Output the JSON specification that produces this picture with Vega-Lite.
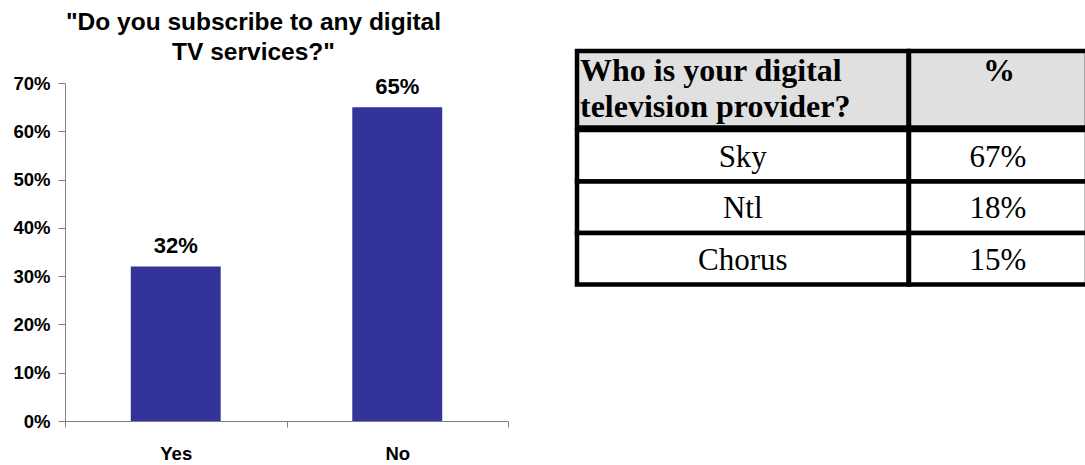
{
  "$schema": "https://vega.github.io/schema/vega-lite/v6.json",
  "padding": {"left": 5, "top": 5, "right": 0, "bottom": 0},
  "background": "white",
  "config": {"view": {"stroke": null}, "font": "Liberation Sans"},
  "datasets": {
    "question": [
      {"text": "\"Do you subscribe to any digital\nTV services?\""}
    ],
    "survey": [
      {"answer": "Yes", "share": 0.32},
      {"answer": "No", "share": 0.65}
    ],
    "header": [
      {"column": "question", "section": "header", "text": "Who is your digital\ntelevision provider?"},
      {"column": "pct", "section": "header", "text": "%"}
    ],
    "providers": [
      {"provider": "Sky", "share": "67%"},
      {"provider": "Ntl", "share": "18%"},
      {"provider": "Chorus", "share": "15%"}
    ]
  },
  "spacing": 65,
  "hconcat": [
    {
      "spacing": 0,
      "vconcat": [
        {
          "width": 377,
          "height": 69,
          "data": {"name": "question"},
          "mark": {"type": "text", "align": "center", "baseline": "alphabetic", "dy": -10, "fontSize": 24.5, "fontWeight": "bold", "font": "Liberation Sans", "lineHeight": 30.5, "lineBreak": "\n", "color": "black"},
          "encoding": {
            "text": {"field": "text"}
          }
        },
        {
          "width": 443,
          "height": 338,
          "data": {"name": "survey"},
          "encoding": {
            "x": {
              "field": "answer",
              "type": "nominal",
              "sort": null,
              "scale": {"paddingInner": 0, "paddingOuter": 0},
              "axis": {
                "title": null,
                "labelAngle": 0,
                "tickBand": "extent",
                "tickSize": 6,
                "labelPadding": 17,
                "labelFontSize": 18.5,
                "labelFontWeight": "bold",
                "labelFont": "Liberation Sans",
                "labelColor": "black",
                "domainColor": "#808080",
                "tickColor": "#808080"
              }
            },
            "y": {
              "field": "share",
              "type": "quantitative",
              "scale": {"domain": [0, 0.7]},
              "axis": {
                "title": null,
                "format": ".0%",
                "values": [0, 0.1, 0.2, 0.3, 0.4, 0.5, 0.6, 0.7],
                "grid": false,
                "tickSize": 7,
                "labelPadding": 8,
                "minExtent": 60,
                "maxExtent": 60,
                "labelFontSize": 18.5,
                "labelFontWeight": "bold",
                "labelFont": "Liberation Sans",
                "labelColor": "black",
                "domainColor": "#808080",
                "tickColor": "#808080"
              }
            }
          },
          "layer": [
            {"mark": {"type": "bar", "color": "#333399", "width": {"band": 0.406}}},
            {
              "mark": {"type": "text", "baseline": "alphabetic", "dy": -13, "fontSize": 22, "fontWeight": "bold", "font": "Liberation Sans", "color": "black"},
              "encoding": {"text": {"field": "share", "type": "quantitative", "format": ".0%"}}
            }
          ]
        }
      ]
    },
    {
      "spacing": -4.5,
      "vconcat": [
        {
          "spacing": 0,
          "bounds": "flush",
          "hconcat": [
            {
              "width": 331.5,
              "height": 122.5,
              "data": {"name": "header"},
              "transform": [{"filter": "datum.column === 'question'"}],
              "encoding": {
                "y": {"field": "section", "type": "nominal", "axis": null, "scale": {"paddingInner": 0, "paddingOuter": 0.30065, "align": 1}}
              },
              "layer": [
                {"mark": {"type": "rect", "fill": "#e0e0e0", "stroke": "black", "strokeWidth": 4.5}},
                {
                  "mark": {"type": "text", "align": "left", "baseline": "top", "font": "Liberation Serif", "fontSize": 32, "fontWeight": "bold", "lineHeight": 36, "lineBreak": "\n", "dx": 3, "dy": 5, "color": "black"},
                  "encoding": {
                    "y": {"field": "section", "type": "nominal", "bandPosition": 0, "axis": null},
                    "x": {"datum": 0, "type": "quantitative", "scale": {"domain": [0, 1]}, "axis": null},
                    "text": {"field": "text"}
                  }
                }
              ]
            },
            {
              "width": 178,
              "height": 122.5,
              "data": {"name": "header"},
              "transform": [{"filter": "datum.column === 'pct'"}],
              "encoding": {
                "y": {"field": "section", "type": "nominal", "axis": null, "scale": {"paddingInner": 0, "paddingOuter": 0.30065, "align": 1}}
              },
              "layer": [
                {"mark": {"type": "rect", "fill": "#e0e0e0", "stroke": "black", "strokeWidth": 4.5}},
                {
                  "mark": {"type": "text", "align": "center", "baseline": "top", "font": "Liberation Serif", "fontSize": 32, "fontWeight": "bold", "dy": 5, "dx": 1, "color": "black"},
                  "encoding": {
                    "y": {"field": "section", "type": "nominal", "bandPosition": 0, "axis": null},
                    "text": {"field": "text"}
                  }
                }
              ]
            }
          ]
        },
        {
          "spacing": 0,
          "bounds": "flush",
          "hconcat": [
            {
              "width": 331.5,
              "height": 154.5,
              "data": {"name": "providers"},
              "encoding": {
                "y": {"field": "provider", "type": "nominal", "sort": null, "axis": null, "scale": {"paddingInner": 0, "paddingOuter": 0}}
              },
              "layer": [
                {"mark": {"type": "rect", "fill": "white", "stroke": "black", "strokeWidth": 4.5}},
                {
                  "mark": {"type": "text", "align": "center", "baseline": "alphabetic", "dy": 11, "font": "Liberation Serif", "fontSize": 31, "color": "black"},
                  "encoding": {"text": {"field": "provider"}}
                }
              ]
            },
            {
              "width": 178,
              "height": 154.5,
              "data": {"name": "providers"},
              "encoding": {
                "y": {"field": "provider", "type": "nominal", "sort": null, "axis": null, "scale": {"paddingInner": 0, "paddingOuter": 0}}
              },
              "layer": [
                {"mark": {"type": "rect", "fill": "white", "stroke": "black", "strokeWidth": 4.5}},
                {
                  "mark": {"type": "text", "align": "center", "baseline": "alphabetic", "dy": 11, "font": "Liberation Serif", "fontSize": 31, "color": "black"},
                  "encoding": {"text": {"field": "share"}}
                }
              ]
            }
          ]
        }
      ]
    }
  ]
}
